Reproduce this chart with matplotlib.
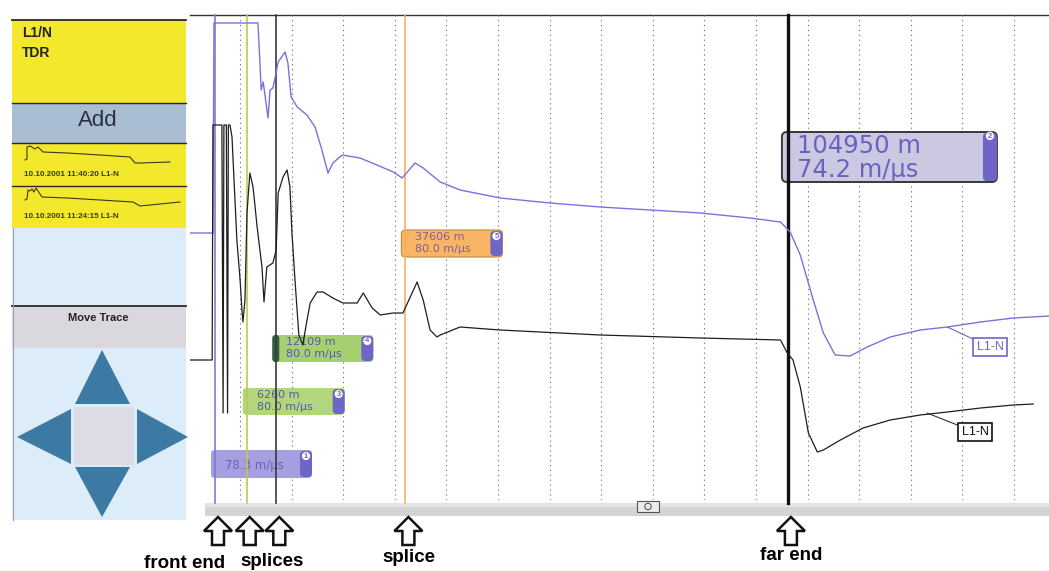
import matplotlib.pyplot as plt
import numpy as np
from matplotlib.patches import Rectangle, Polygon, FancyBboxPatch, Circle

plt.rcParams['font.family'] = ['Liberation Sans', 'DejaVu Sans']

# cursors on the TDR screen: id, distance (m), velocity (m/us)
cursor_ids = [1, 3, 4, 5, 2]
cursor_dist = [0, 6260, 12109, 37606, 104950]
cursor_vel = [78.3, 80.0, 80.0, 80.0, 74.2]
cursor_colors = ['#8078dc', '#c8c44c', '#3a3a3a', '#f7b060', '#111111']

# traces: one-way travel time (us) and amplitude (screen units)
blue_t = [-62, -5, -2.5, 106, 111, 114, 119, 131, 136, 143, 156, 173, 180, 188, 203,
          227, 247, 264, 279, 291, 314, 358, 400, 440, 462, 494, 514, 556, 605, 704,
          827, 951, 1074, 1198, 1321, 1396, 1420, 1445, 1477, 1502, 1531, 1568, 1610,
          1667, 1741, 1808, 1890, 1971, 2060]
blue_a = [267, 267, 477, 477, 437, 410, 418, 382, 410, 412, 438, 448, 437, 403, 393,
          385, 373, 350, 327, 337, 345, 342, 335, 328, 322, 337, 332, 318, 310, 302,
          297, 293, 290, 287, 282, 278, 268, 245, 200, 167, 145, 144, 153,
          163, 170, 173, 178, 182, 184]

black_t = [-62, -7, -5, 17, 20, 22, 28, 31, 33, 37, 42, 54, 62, 67, 69, 74, 79, 86, 94,
           104, 116, 121, 128, 143, 151, 156, 168, 178, 185, 190, 198, 207, 217, 225,
           235, 252, 267, 291, 316, 351, 366, 388, 408, 440, 464, 499, 514, 531, 548,
           556, 605, 704, 951, 1198, 1396, 1413, 1427, 1445, 1465, 1487, 1502, 1544,
           1600, 1667, 1741, 1808, 1890, 1971, 2020]
black_a = [140, 140, 375, 375, 87, 375, 375, 87, 375, 375, 363, 260, 220, 187, 178, 200,
           287, 327, 313, 273, 233, 198, 233, 237, 250, 307, 323, 330, 313, 267, 217,
           165, 155, 175, 197, 208, 208, 202, 197, 197, 207, 192, 185, 187, 187, 218,
           200, 170, 163, 165, 173, 170, 165, 162, 160, 147, 140, 113, 67, 48, 50, 60,
           72, 80, 85, 88, 92, 95, 96]

# stored-trace thumbnails in the side panel
thumb1_x = [15, 17, 17, 20, 25, 28, 33, 57, 90, 120, 125, 130, 160]
thumb1_y = [17, 16, 4, 3, 6, 4, 9, 10, 12, 14, 20, 20, 19]
thumb2_x = [15, 17, 18, 20, 22, 24, 26, 28, 32, 57, 90, 123, 130, 140, 170]
thumb2_y = [13, 12, 3, 4, 2, 5, 1, 4, 10, 11, 13, 15, 19, 18, 15]
thumb_labels = ['10.10.2001 11:40:20 L1-N', '10.10.2001 11:24:15 L1-N']

events = ['front end', 'splices', 'splice', 'far end']
event_cursors = [[1], [3, 4], [5], [2]]

cursor_t = [d / v for d, v in zip(cursor_dist, cursor_vel)]

fig = plt.figure(figsize=(10.49, 5.71), dpi=100)
bg = fig.add_axes([0, 0, 1, 1])
bg.set_xlim(0, 1049)
bg.set_ylim(571, 0)
bg.axis('off')
P = bg.transData

ax = fig.add_axes([190 / 1049, 71 / 571, 859 / 1049, 485 / 571], zorder=2)
ax.set_facecolor('none')
ax.set_xlim(-61.7, 2059)
ax.set_ylim(0, 485)
for s in ax.spines.values():
    s.set_visible(False)
ax.set_xticks(61.7 + 127.4 * np.arange(16))
ax.set_yticks([])
ax.tick_params(length=0, labelbottom=False)
ax.set_axisbelow(True)
ax.grid(axis='x', color='#7c7c7c', lw=0.8, ls=(0, (1.2, 3.2)))


def px_of(t):
    d = ax.transData.transform((t, 0))
    return P.inverted().transform(d)[0]


# ---- side panel ----
def rect(x0, y0, x1, y1, fc):
    bg.add_patch(Rectangle((x0, y0), x1 - x0, y1 - y0, fc=fc, ec='none'))


rect(12, 20, 186, 103, '#f3e82c')
rect(12, 103, 186, 143, '#a8bcd2')
rect(12, 143, 186, 186, '#f3e82c')
rect(12, 186, 186, 228, '#f3e82c')
rect(12, 228, 186, 306, '#dcecf8')
rect(12, 306, 186, 348, '#dad7df')
rect(12, 348, 186, 520, '#dcecf8')
for yy, lw in [(20, 1.3), (103, 1.0), (143, 1.0), (186, 1.0), (306, 1.3)]:
    bg.plot([12, 186], [yy, yy], color='#2a2a2a', lw=lw)
bg.plot([13, 13], [228, 520], color='#9aa4ae', lw=0.8)

bg.text(22, 33, 'L1/N', fontsize=10, fontweight='bold', color='#222222', va='center')
bg.text(22, 53, 'TDR', fontsize=10, fontweight='bold', color='#222222', va='center')
bg.text(98, 121, 'Add', fontsize=16, color='#2a3040', ha='center', va='center')
bg.text(98, 318, 'Move Trace', fontsize=8, fontweight='bold', color='#222222',
        ha='center', va='center')

bg.plot(np.array(thumb1_x) + 10, np.array(thumb1_y) + 143, color='#3a3a20', lw=0.8)
bg.plot(np.array(thumb2_x) + 10, np.array(thumb2_y) + 187, color='#3a3a20', lw=0.8)
bg.text(24, 175, thumb_labels[0], fontsize=5.8, fontweight='bold', color='#3a3a20', va='center')
bg.text(24, 217, thumb_labels[1], fontsize=5.8, fontweight='bold', color='#3a3a20', va='center')

pad = '#3d7aa3'
bg.add_patch(Polygon([(102, 350), (75, 404), (130, 404)], fc=pad, ec='none'))
bg.add_patch(Polygon([(102, 517), (75, 467), (130, 467)], fc=pad, ec='none'))
bg.add_patch(Polygon([(17, 437), (71, 409), (71, 464)], fc=pad, ec='none'))
bg.add_patch(Polygon([(188, 437), (137, 409), (137, 464)], fc=pad, ec='none'))
rect(74, 407, 134, 465, '#dcdce6')

# ---- frame, scrollbar ----
bg.plot([190, 1049], [15, 15], color='#333333', lw=1.0)
rect(205, 503, 1049, 516, '#d4d4d4')
rect(205, 503, 1049, 507, '#e4e4e4')
bg.add_patch(Rectangle((637, 501), 22, 11, fc='#ececec', ec='#555555', lw=0.8))
bg.add_patch(Circle((648, 506.5), 3.2, fc='none', ec='#555555', lw=0.8))

# ---- traces and cursors ----
ax.plot(blue_t, blue_a, color='#7a72dc', lw=1.0, zorder=3)
ax.plot(black_t, black_a, color='#1e1e1e', lw=0.9, zorder=3)
for t, c, cid in zip(cursor_t, cursor_colors, cursor_ids):
    ax.plot([t, t], [-3, 485], color=c, lw=2.4 if cid == 2 else 1.2,
            zorder=2.5, clip_on=False)

# ---- cursor tags ----
cap_col = '#6e66c6'


def box(x0, y0, w, h, fc, ec='none', lw=0.8, r=4):
    ax.add_patch(FancyBboxPatch((x0, y0), w, h, boxstyle=f'round,pad=0,rounding_size={r}',
                                fc=fc, ec=ec, lw=lw, transform=P, clip_on=False, zorder=2))


def badge(x, y, n):
    ax.add_patch(Circle((x, y), 4.5, fc='white', ec=cap_col, lw=0.6, transform=P,
                        clip_on=False, zorder=2.1))
    ax.text(x, y, str(n), fontsize=5.5, color=cap_col, ha='center', va='center',
            fontweight='bold', transform=P, zorder=2.2)


def tag_text(x, y, s, fs, color):
    ax.text(x, y, s, fontsize=fs, color=color, family='DejaVu Sans',
            va='baseline', transform=P, zorder=2.2)


tag_style = {
    1: dict(top=450, h=28, w=101, fc='#a59fe0', tc='#6a62c2'),
    3: dict(top=388, h=27, w=102, fc='#b2d77a', tc='#5a56b4'),
    4: dict(top=335, h=27, w=101, fc='#a6d070', tc='#5a56b4'),
    5: dict(top=230, h=27, w=101, fc='#f7b565', tc='#8c5a9c'),
}
for t, cid, d, v in zip(cursor_t, cursor_ids, cursor_dist, cursor_vel):
    cx = px_of(t)
    if cid == 2:
        x0 = cx - 6
        box(x0, 132, 215, 50, '#cbc8e2', ec='#383838', lw=1.4, r=5)
        box(x0 + 201, 133, 14, 48, cap_col, r=4)
        badge(x0 + 208, 136, cid)
        tag_text(x0 + 15, 153, f'{d} m', 17.5, '#6b62c0')
        tag_text(x0 + 15, 177, f'{v:.1f} m/µs', 17.5, '#6b62c0')
        continue
    st = tag_style[cid]
    x0 = cx - 4
    top, h, w = st['top'], st['h'], st['w']
    box(x0, top, w, h, st['fc'], ec='#c08a40' if cid == 5 else 'none')
    box(x0 + w - 12, top + 1, 12, h - 2, cap_col, r=4)
    if cid == 4:
        box(x0, top, 7, h, '#2e5e45', r=3)
    badge(x0 + w - 6, top + 6, cid)
    if d == 0:
        tag_text(x0 + 14, top + 19, f'{v:.1f} m/µs', 8.5, st['tc'])
    else:
        tag_text(x0 + 14, top + 10, f'{d} m', 8, st['tc'])
        tag_text(x0 + 14, top + 22, f'{v:.1f} m/µs', 8, st['tc'])

# ---- trace labels ----
ax.annotate('L1-N', xy=(1808, 173), xytext=(990, 347), textcoords=P, fontsize=9,
            color='#6e66c6', ha='center', va='center', zorder=4,
            bbox=dict(boxstyle='square,pad=0.25', fc='white', ec='#6e66c6', lw=1.2),
            arrowprops=dict(arrowstyle='-', color='#6e66c6', lw=0.8, shrinkA=0, shrinkB=0))
ax.annotate('L1-N', xy=(1758, 87), xytext=(975, 432), textcoords=P, fontsize=9,
            color='#111111', ha='center', va='center', zorder=4,
            bbox=dict(boxstyle='square,pad=0.25', fc='white', ec='#111111', lw=1.2),
            arrowprops=dict(arrowstyle='-', color='#333333', lw=0.8, shrinkA=0, shrinkB=0))


# ---- event arrows below the screen ----
def up_arrow(cx):
    pts = [(cx, 517), (cx - 14, 531), (cx - 6, 531), (cx - 6, 545),
           (cx + 6, 545), (cx + 6, 531), (cx + 14, 531)]
    bg.add_patch(Polygon(pts, closed=True, fc='white', ec='#111111', lw=1.8, zorder=3))


for label, ids in zip(events, event_cursors):
    xs = [px_of(cursor_t[cursor_ids.index(i)]) + 3 for i in ids]
    for x in xs:
        up_arrow(x)
    if label == 'front end':
        bg.text(xs[0] + 7, 563, label, fontsize=13.5, fontweight='bold', ha='right', va='center')
    elif label == 'splices':
        bg.text(xs[0] - 9, 562, label, fontsize=13.5, fontweight='bold', ha='left', va='center')
    else:
        bg.text(xs[0], 558 if label == 'splice' else 555, label, fontsize=13.5,
                fontweight='bold', ha='center', va='center')

fig.savefig('out.png', dpi=100)
